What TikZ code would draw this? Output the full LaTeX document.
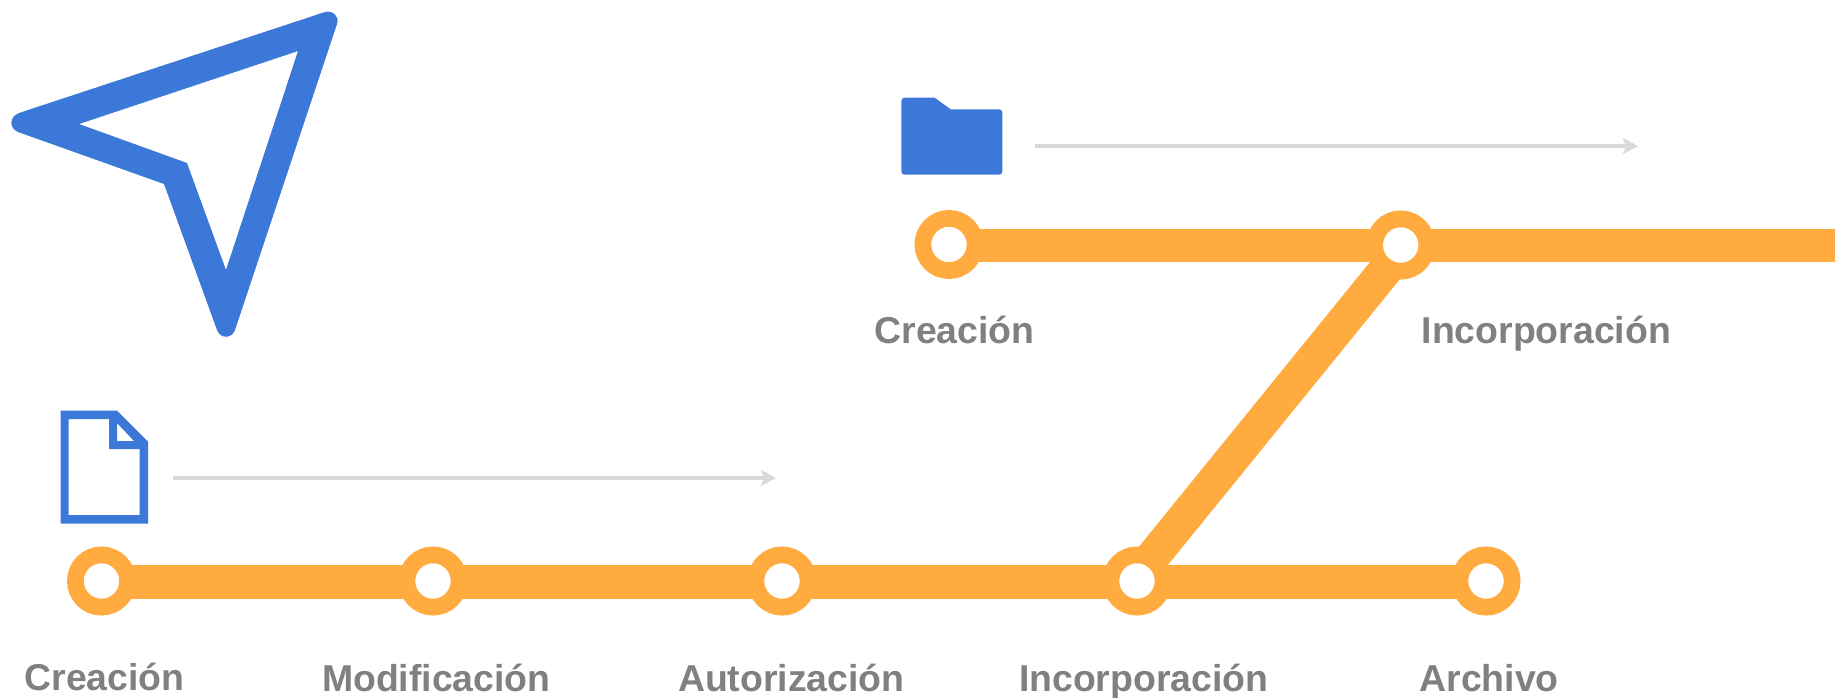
\documentclass[tikz,border=0pt]{standalone}
\usepackage{fontspec}
\setmainfont{Liberation Sans}
\usetikzlibrary{arrows.meta,backgrounds,calc}
\definecolor{iconblue}{HTML}{3C78D8}
\definecolor{lineorange}{HTML}{FFAB40}
\definecolor{labelgray}{HTML}{808080}
\definecolor{arrowgray}{HTML}{D9D9D9}
\tikzset{
  stop/.style={circle,draw=lineorange,fill=white,line width=16.7pt,minimum size=52.3pt,inner sep=0pt,outer sep=0pt},
  track/.style={draw=lineorange,line width=34pt},
  flow/.style={draw=arrowgray,line width=4pt,-{Stealth[length=15pt,width=16pt,inset=3pt]}},
  lab/.style={anchor=base west,inner sep=0pt,outer sep=0pt,text=labelgray,font=\fontsize{37.4}{37.4}\selectfont\bfseries},
  icon/.style={fill=iconblue,draw=none}
}
\begin{document}
\begin{tikzpicture}[x=1pt,y=-1pt]
\useasboundingbox (0,0) rectangle (1835,697);
% pointer icon
\path[icon,even odd rule]
  (19,113) -- (325,12) .. controls (332,10) and (340,16) .. (337,24)
  -- (235,330) .. controls (232,339) and (220,339) .. (217,330)
  -- (164,184) -- (18,132) .. controls (9,128) and (9,117) .. (19,113) -- cycle
  (79,124) -- (298,51) -- (226,270) -- (187,163) -- cycle;
% document icon
\path[icon,even odd rule]
  (60.5,410.5) -- (117,410.5) -- (148,441.5) -- (148,523.5) -- (60.5,523.5) -- cycle
  (68.5,419) -- (109,419) -- (109,449) -- (139.5,449) -- (139.5,515) -- (68.5,515) -- cycle
  (117,423) -- (134,441) -- (117,441) -- cycle;
% folder icon
\path[icon]
  (901.3,101) .. controls (901.3,99) and (903,97.7) .. (905,97.7) -- (934.6,97.7) -- (950.7,109.3)
  -- (998.9,109.3) .. controls (1001,109.3) and (1002.4,110.7) .. (1002.4,112.8)
  -- (1002.4,171.2) .. controls (1002.4,173.3) and (1001,174.7) .. (998.9,174.7)
  -- (904.8,174.7) .. controls (902.7,174.7) and (901.3,173.3) .. (901.3,171.2) -- cycle;
% stops lower
\node[stop] (a1) at (101.5,581) {};
\node[stop] (a2) at (433,581) {};
\node[stop] (a3) at (782,581) {};
\node[stop] (a4) at (1137,581) {};
\node[stop] (a5) at (1486,581) {};
% stops upper
\node[stop] (b1) at (949,244.5) {};
\node[stop] (b2) at (1400.7,245) {};
\coordinate (bend) at (1835,245);
\begin{pgfonlayer}{background}
  \draw[track] ($(a1.center)+(0,0.5)$) -- ($(a5.center)+(0,0.5)$);
  \draw[track,line width=33pt] (b2.center -| b1.center) -- (bend);
  \draw[track] ($(a4.center)+(-4,0)$) -- ($(b2.center)+(5,0)$);
\end{pgfonlayer}
% flow arrows
\coordinate (f1s) at (173,478);
\coordinate (f1e) at (776,478);
\coordinate (f2s) at (1035,146);
\coordinate (f2e) at (1638,146);
\draw[flow] (f1s) -- (f1e);
\draw[flow] (f2s) -- (f2e);
% labels
\node[lab] (l1) at (24.5,690) {Creación};
\node[lab] (l2) at (322,691) {Modificación};
\node[lab] (l3) at (678,691) {Autorización};
\node[lab] (l4) at (1019,691) {Incorporación};
\node[lab] (l5) at (1419.5,691.5) {Archivo};
\node[lab] (l6) at (874.5,343) {Creación};
\node[lab] (l7) at (1421.6,343) {Incorporación};
\end{tikzpicture}
\end{document}
